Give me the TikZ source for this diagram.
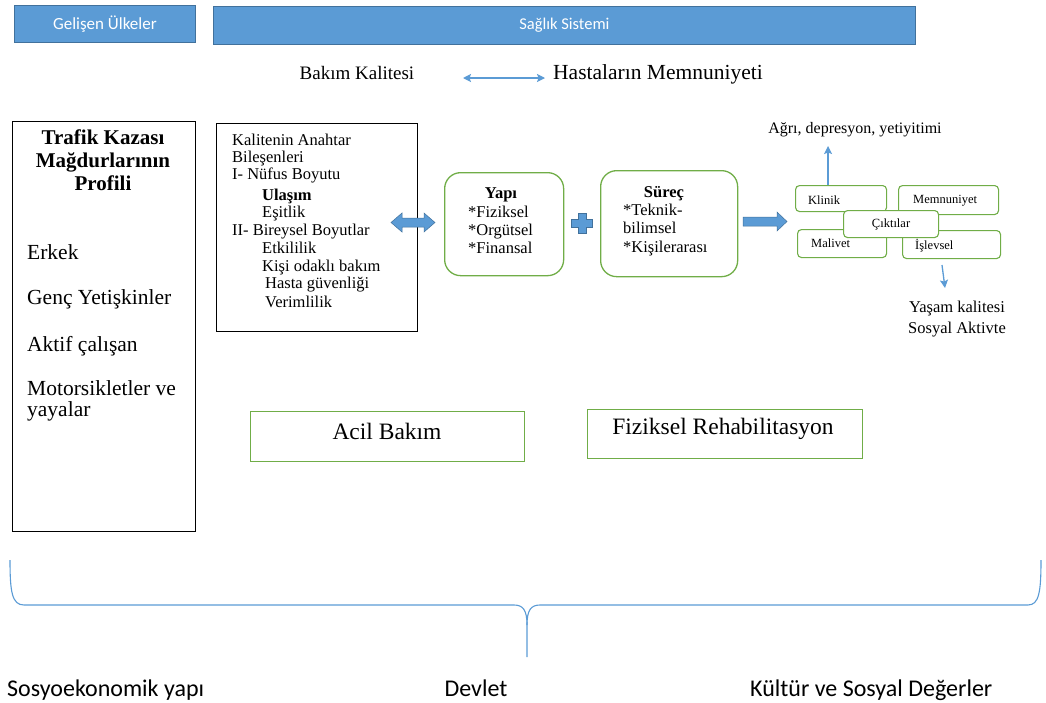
\documentclass[tikz,border=0pt]{standalone}
\usepackage{fontspec}
\setmainfont{Liberation Serif}
\newfontfamily\calibri{Carlito}
\usetikzlibrary{arrows.meta}
\definecolor{bandblue}{HTML}{5B9BD5}
\definecolor{bandedge}{HTML}{41719C}
\definecolor{boxgreen}{HTML}{70AD47}
\newcommand\fsz[2]{\fontsize{#1}{#2}\selectfont}
\begin{document}
\begin{tikzpicture}[x=1pt,y=-1pt,
  band/.style={draw=bandedge, fill=bandblue, line width=0.8pt, text=white,
    font=\calibri\fsz{16.5}{20}, inner sep=0, anchor=north west},
  plainbox/.style={draw=black, line width=1.3pt, inner sep=0, anchor=north west},
  greenbox/.style={draw=boxgreen, line width=1.3pt, inner sep=0, anchor=north west},
  roundbox/.style={greenbox, rounded corners=16pt},
  outbox/.style={greenbox, line width=1.1pt, rounded corners=4pt, fill=white},
  txt/.style={inner sep=0, anchor=base west},
  ctxt/.style={inner sep=0, anchor=base},
  listfont/.style={font=\fsz{16.5}{18}},
  smallfont/.style={font=\fsz{12.5}{14}},
  proffont/.style={font=\fsz{21.5}{24}},
  blockarrow/.style={fill=bandblue, draw=bandedge, line width=0.5pt},
  linkarrow/.style={draw=bandblue, line width=1.3pt, {Stealth[length=8pt,width=8pt,inset=1.5pt]}-{Stealth[length=8pt,width=8pt,inset=1.5pt]}},
  outarrow/.style={draw=bandblue, line width=1.3pt, -{Stealth[length=8pt,width=8pt,inset=1.5pt]}},
  bracepath/.style={draw=bandblue, line width=1.1pt}
]
\useasboundingbox (0,0) rectangle (1046,702);

% header bands
\node[band, minimum width=181, minimum height=37] (dev) at (14,5) {};
\node[text=white, font=\calibri\fsz{17}{20}, inner sep=0] (devt) at (dev.center) {Gelişen Ülkeler};
\node[band, minimum width=702, minimum height=38] (sag) at (213,6) {};
\node[text=white, font=\calibri\fsz{16.5}{20}, inner sep=0] (sagt) at (sag.center) {Sağlık Sistemi};

% quality and satisfaction
\node[ctxt, font=\fsz{19}{22}] (bk) at (357,79) {Bakım Kalitesi};
\node[txt, font=\fsz{21.5}{24}] (hm) at (553,79) {Hastaların Memnuniyeti};
\coordinate (q1) at (463,78);
\coordinate (q2) at (545,78);
\draw[linkarrow] (q1) -- (q2);

% victim profile
\node[plainbox, minimum width=183, minimum height=410] (prof) at (12,121) {};
\node[ctxt, font=\bfseries\fsz{21}{24}] (p1) at (103,144) {Trafik Kazası};
\node[ctxt, font=\bfseries\fsz{21}{24}] (p2) at (103,167) {Mağdurlarının};
\node[ctxt, font=\bfseries\fsz{21}{24}] (p3) at (103,190) {Profili};
\node[txt, proffont] (e1) at (27,259) {Erkek};
\node[txt, proffont] (e2) at (27,304) {Genç Yetişkinler};
\node[txt, proffont] (e3) at (27,351) {Aktif çalışan};
\node[txt, proffont] (e4) at (27,395) {Motorsikletler ve};
\node[txt, proffont] (e5) at (27,416) {yayalar};

% key components of quality
\node[plainbox, line width=1.2pt, minimum width=201, minimum height=208] (kal) at (216,123) {};
\node[txt, listfont] (k1) at (232,145) {Kalitenin Anahtar};
\node[txt, listfont] (k2) at (232,162) {Bileşenleri};
\node[txt, listfont] (k3) at (232,179) {I- Nüfus Boyutu};
\node[txt, font=\bfseries\fsz{16.5}{18}] (k4) at (262,200) {Ulaşım};
\node[txt, listfont] (k5) at (262,217) {Eşitlik};
\node[txt, listfont] (k6) at (232,235) {II- Bireysel Boyutlar};
\node[txt, listfont] (k7) at (262,253) {Etkililik};
\node[txt, listfont] (k8) at (262,271) {Kişi odaklı bakım};
\node[txt, listfont] (k9) at (265,288) {Hasta güvenliği};
\node[txt, listfont] (k10) at (265,307) {Verimlilik};

% double block arrow
\draw[blockarrow] (391,222.5) -- (402,213) -- (402,218) -- (424,218) -- (424,213)
  -- (435,222.5) -- (424,232) -- (424,227) -- (402,227) -- (402,232) -- cycle;

% structure
\node[roundbox, minimum width=119, minimum height=103] (yapi) at (444,172) {};
\node[ctxt, font=\bfseries\fsz{16.5}{18}] (y0) at (501,198) {Yapı};
\node[txt, listfont] (y1) at (468,217) {*Fiziksel};
\node[txt, listfont] (y2) at (468,235) {*Orgütsel};
\node[txt, listfont] (y3) at (468,253) {*Finansal};

% plus sign
\draw[blockarrow] (578,213) -- (586,213) -- (586,219) -- (592.5,219) -- (592.5,227)
  -- (586,227) -- (586,233.5) -- (578,233.5) -- (578,227) -- (571.5,227) -- (571.5,219)
  -- (578,219) -- cycle;

% process
\node[roundbox, minimum width=137, minimum height=106] (surec) at (600,170) {};
\node[ctxt, font=\bfseries\fsz{16.5}{18}] (s0) at (664,197) {Süreç};
\node[txt, listfont] (s1) at (623,215) {*Teknik-};
\node[txt, listfont] (s2) at (623,233) {bilimsel};
\node[txt, listfont] (s3) at (623,252) {*Kişilerarası};

% block arrow to outcomes
\draw[blockarrow] (743,217) -- (777,217) -- (777,212) -- (787,221.5) -- (777,231)
  -- (777,226) -- (743,226) -- cycle;

% outcomes
\node[outbox, minimum width=91, minimum height=26] (kl) at (795,185) {};
\node[txt, smallfont] (klt) at (808,204) {Klinik};
\node[outbox, minimum width=100, minimum height=29] (mem) at (898,185) {};
\node[txt, smallfont] (memt) at (913,203) {Memnuniyet};
\node[outbox, minimum width=89, minimum height=28] (mal) at (797,229) {};
\node[txt, smallfont] (malt) at (811,247) {Malivet};
\node[outbox, minimum width=98, minimum height=28] (isl) at (902,230) {};
\node[txt, smallfont] (islt) at (915,249) {İşlevsel};
\node[outbox, minimum width=95, minimum height=27] (cik) at (843,210) {};
\node[smallfont, inner sep=0] (cikt) at (cik.center) {Çıktılar};

\draw[outarrow] ([xshift=-13pt]kl.north) -- ++(0,-39);
\node[ctxt, font=\fsz{16}{18}] (agri) at (855,133) {Ağrı, depresyon, yetiyitimi};

\coordinate (d1) at (942,265);
\coordinate (d2) at (945,288);
\draw[outarrow] (d1) -- (d2);
\node[ctxt, font=\fsz{16.5}{19}] (yk) at (957,312) {Yaşam kalitesi};
\node[ctxt, font=\fsz{16.5}{19}] (sa) at (957,333) {Sosyal Aktivte};

% care stages
\node[greenbox, minimum width=274, minimum height=50] (acil) at (250,411) {};
\node[font=\fsz{23.5}{26}, inner sep=0] (acilt) at (387,431) {Acil Bakım};
\node[greenbox, minimum width=275, minimum height=49] (fiz) at (587,409) {};
\node[font=\fsz{23.5}{26}, inner sep=0] (fizt) at (723,429) {Fiziksel Rehabilitasyon};

% bottom brace
\draw[bracepath] (10,560) .. controls (10,592) and (12,605) .. (24,605) -- (514,605)
  .. controls (523,605) and (527,610) .. (527,625) -- (527,657);
\draw[bracepath] (527,625) .. controls (527,610) and (531,605) .. (540,605) -- (1028,605)
  .. controls (1039,605) and (1041,592) .. (1041,560);

% context factors
\node[txt, font=\calibri\fsz{24}{28}] (sos) at (7,696) {Sosyoekonomik yapı};
\node[ctxt, font=\calibri\fsz{24}{28}] (dvl) at (476,696) {Devlet};
\node[txt, font=\calibri\fsz{24}{28}] (kul) at (750,696) {Kültür ve Sosyal Değerler};
\end{tikzpicture}
\end{document}
